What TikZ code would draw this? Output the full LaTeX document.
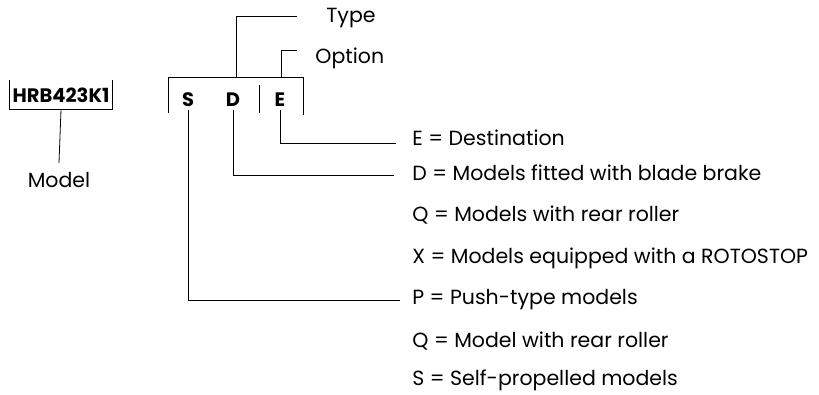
\documentclass[tikz,border=0pt]{standalone}
\usepackage{fontspec}
\setmainfont{Poppins}
\begin{document}
\begin{tikzpicture}[x=1pt,y=-1pt,line width=0.8pt,
	lbl/.style={anchor=west,inner sep=0pt,font=\fontsize{20.5}{20.5}\selectfont},
	code/.style={inner sep=3pt,font=\bfseries\fontsize{19.5}{19.5}\selectfont}]
	\useasboundingbox (0,0) rectangle (819,395);
	% model code
	\node (HRB) at ( 61, 95)	[code, inner xsep=3pt, inner ysep=7pt]	{HRB423K1};
	\node (Model) at ( 59,180)	[lbl, anchor=center, inner ysep=9pt]	{Model};
	\draw (HRB.north west) |- (HRB.south east) -- (HRB.north east);
	\draw (HRB.south) -- (Model.north);
	% type and option letters
	\node (S) at (188,100)	[code]	{S};
	\node (D) at (233,100)	[code]	{D};
	\node (E) at (280,100)	[code]	{E};
	\coordinate (bl) at (168,113);
	\coordinate (br) at (303,115);
	\coordinate (bar) at (259, 85);
	\coordinate (typefoot) at (236, 77);
	\coordinate (optfoot) at (281, 77);
	\draw (bl) |- (br |- typefoot) -- (br);
	\draw (bar) -- (bar |- bl);
	\node (Type) at (326, 18)	[lbl]	{Type};
	\node (Option) at (315, 58)	[lbl]	{Option};
	\draw (typefoot) |- ([xshift=-29pt,yshift=2pt]Type.west);
	\draw (optfoot) |- ([xshift=-18pt,yshift=8pt]Option.west);
	% meanings
	\node (tE) at (412,138)	[lbl]	{E = Destination};
	\node (tD) at (412,173)	[lbl]	{D = Models fitted with blade brake};
	\node (tQ) at (412,215)	[lbl]	{Q = Models with rear roller};
	\node (tX) at (412,258)	[lbl]	{X = Models equipped with a ROTOSTOP};
	\node (tP) at (412,300)	[lbl]	{P = Push-type models};
	\node (tR) at (412,341)	[lbl]	{Q = Model with rear roller};
	\node (tS) at (412,380)	[lbl]	{S = Self-propelled models};
	\draw (E.south) |- ([xshift=-16pt,yshift=-5pt]tE.west);
	\draw (D.south) |- ([xshift=-18pt,yshift=-2pt]tD.west);
	\draw (S.south) |- ([xshift=-12pt]tP.west);
\end{tikzpicture}
\end{document}
